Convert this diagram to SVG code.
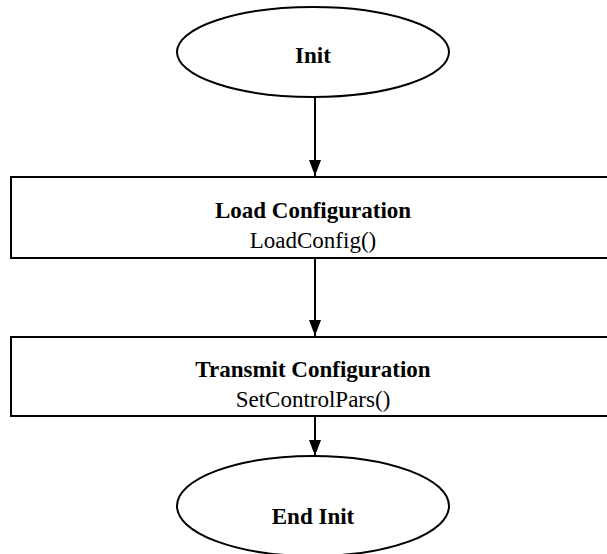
<svg xmlns="http://www.w3.org/2000/svg" width="607" height="554" viewBox="0 0 607 554">
<style>
.shape{fill:#fff;stroke:#000;stroke-width:2}
.edge{stroke:#000;stroke-width:2;fill:none}
.b{font-family:"Liberation Serif","Times New Roman",serif;font-weight:bold;font-size:23px;text-anchor:middle;fill:#000}
.r{font-family:"Liberation Serif","Times New Roman",serif;font-size:23px;text-anchor:middle;fill:#000}
</style>
<defs>
<marker id="ah" markerWidth="12" markerHeight="16" refX="16" refY="6" orient="auto" markerUnits="userSpaceOnUse">
<path d="M0,0 L16,6 L0,12 Z" fill="#000"/>
</marker>
</defs>
<g id="connectors">
<line class="edge" x1="315" y1="97" x2="315" y2="176" marker-end="url(#ah)"/>
<line class="edge" x1="315" y1="258" x2="315" y2="336" marker-end="url(#ah)"/>
<line class="edge" x1="315" y1="416" x2="315" y2="456" marker-end="url(#ah)"/>
</g>
<g id="init">
<ellipse class="shape" cx="313" cy="52" rx="136" ry="45"/>
<text class="b" x="313" y="63">Init</text>
</g>
<g id="load">
<rect class="shape" x="11" y="177" width="600" height="81"/>
<text class="b" x="313" y="218">Load Configuration</text>
<text class="r" x="313" y="248">LoadConfig()</text>
</g>
<g id="transmit">
<rect class="shape" x="11" y="337" width="600" height="79"/>
<text class="b" x="313" y="377">Transmit Configuration</text>
<text class="r" x="313" y="407">SetControlPars()</text>
</g>
<g id="end">
<ellipse class="shape" cx="313" cy="506" rx="136" ry="50"/>
<text class="b" x="313" y="524">End Init</text>
</g>
</svg>
